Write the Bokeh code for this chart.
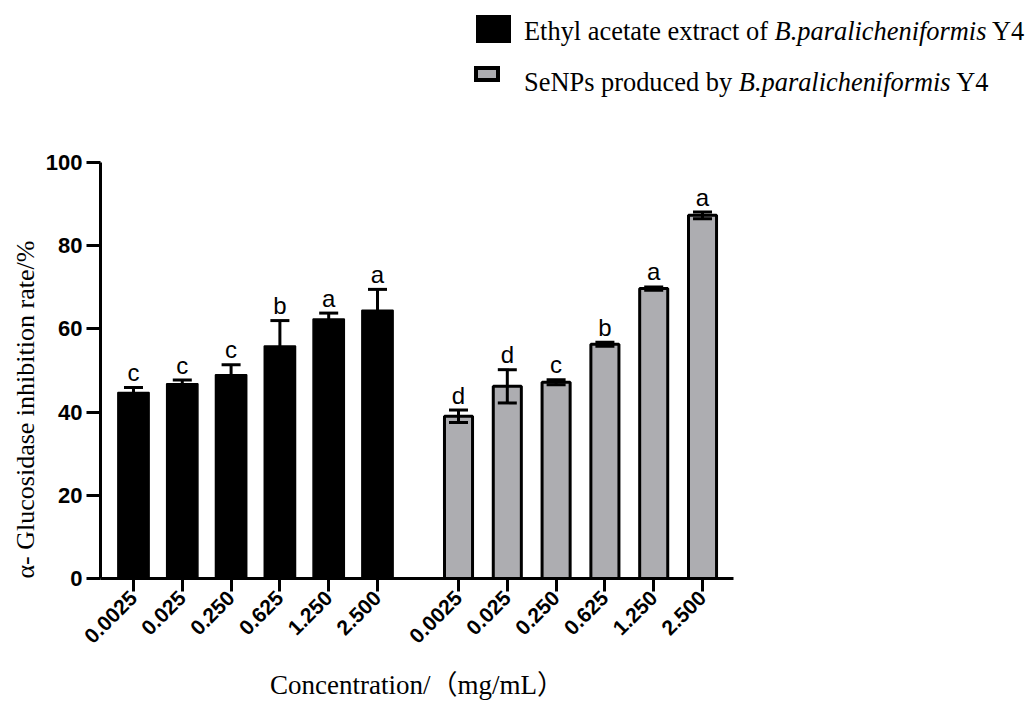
import math
from bokeh.plotting import figure
from bokeh.models import (Range1d, FixedTicker, CustomJSTickFormatter, ColumnDataSource,
                          Whisker, TeeHead, Title, Div)
from bokeh.layouts import column
from bokeh.core.properties import value
from bokeh.embed import file_html
from bokeh.resources import INLINE

# ---------------- data ----------------
concentrations = ["0.0025", "0.025", "0.250", "0.625", "1.250", "2.500"]

ethyl_mean = [44.7, 46.8, 49.0, 55.9, 62.4, 64.5]
ethyl_sd = [1.2, 0.9, 2.4, 6.1, 1.4, 5.0]
ethyl_letters = ["c", "c", "c", "b", "a", "a"]

senps_mean = [39.0, 46.2, 47.2, 56.3, 69.7, 87.3]
senps_sd = [1.5, 4.0, 0.6, 0.5, 0.4, 0.8]
senps_letters = ["d", "d", "c", "b", "a", "a"]

series_names = ["Ethyl acetate extract of", "SeNPs produced by"]
species = "B.paralicheniformis"
strain = "Y4"

y_ticks = [0, 20, 40, 60, 80, 100]
y_title = "α- Glucosidase inhibition rate/%"
x_title = "Concentration/（mg/mL）"

# ---------------- layout helpers ----------------
GROUP_OFFSET = 6.66
left_x = [float(i) for i in range(len(concentrations))]
right_x = [GROUP_OFFSET + i for i in range(len(concentrations))]
all_x = left_x + right_x
all_labels = concentrations + concentrations

GREY = "#adadb1"

src_l = ColumnDataSource(dict(
    x=left_x, top=ethyl_mean,
    upper=[m + s for m, s in zip(ethyl_mean, ethyl_sd)],
    lower=[m - s for m, s in zip(ethyl_mean, ethyl_sd)],
    letter=ethyl_letters))
src_r = ColumnDataSource(dict(
    x=right_x, top=senps_mean,
    upper=[m + s for m, s in zip(senps_mean, senps_sd)],
    lower=[m - s for m, s in zip(senps_mean, senps_sd)],
    letter=senps_letters))

p = figure(width=753, height=602,
           x_range=Range1d(-0.676, 12.295), y_range=Range1d(0, 100),
           output_backend="svg", toolbar_location=None,
           min_border_left=100, min_border_top=62, min_border_bottom=123,
           min_border_right=20)
p.outline_line_color = None
p.xgrid.visible = False
p.ygrid.visible = False
p.background_fill_color = "white"

p.vbar(x="x", top="top", bottom=0, width=0.64, source=src_l,
       fill_color="black", line_color="black", line_width=1.5)
p.vbar(x="x", top="top", bottom=0, width=0.575, source=src_r,
       fill_color=GREY, line_color="black", line_width=3)

for src in (src_l, src_r):
    w = Whisker(base="x", upper="upper", lower="lower", source=src,
                line_width=3, line_color="black",
                upper_head=TeeHead(size=19, line_width=3, line_color="black"),
                lower_head=TeeHead(size=19, line_width=3, line_color="black"),
                level="annotation")
    p.add_layout(w)
    p.text(x="x", y="upper", text="letter", source=src,
           text_align="center", text_baseline="alphabetic", y_offset=-15,
           text_font=value("Liberation Sans"), text_font_size="24px",
           text_color="black")

# y axis
ya = p.yaxis[0]
ya.ticker = FixedTicker(ticks=y_ticks)
ya.axis_line_width = 3
ya.major_tick_line_width = 3
ya.major_tick_out = 14
ya.major_tick_in = 0
ya.minor_tick_out = 0
ya.minor_tick_in = 0
ya.major_label_standoff = 4
ya.major_label_text_font = "Liberation Sans"
ya.major_label_text_font_style = "bold"
ya.major_label_text_font_size = "22px"
ya.major_label_text_color = "black"
ya.axis_label = None

p.add_layout(Title(text=y_title, align="left", text_font="Liberation Serif",
                   text_font_size="26px", text_font_style="normal",
                   text_color="black", standoff=6), "left")

# x axis
xa = p.xaxis[0]
xa.ticker = FixedTicker(ticks=all_x)
xa.formatter = CustomJSTickFormatter(args=dict(labels=all_labels),
                                     code="return labels[index];")
xa.major_label_orientation = math.pi / 4
xa.axis_line_width = 3
xa.major_tick_line_width = 3
xa.major_tick_out = 13
xa.major_tick_in = 0
xa.minor_tick_out = 0
xa.minor_tick_in = 0
xa.major_label_standoff = 3
xa.major_label_text_font = "Liberation Sans"
xa.major_label_text_font_style = "bold"
xa.major_label_text_font_size = "21px"
xa.major_label_text_color = "black"
xa.axis_label = x_title
xa.axis_label_text_font = "'Liberation Serif', 'Noto Sans CJK SC'"
xa.axis_label_text_font_style = "normal"
xa.axis_label_text_font_size = "27px"
xa.axis_label_text_color = "black"
xa.axis_label_standoff = 17

# legend (mixed roman/italic text) as HTML
legend_html = (
    "<div style=\"position:relative;width:1031px;height:100px;"
    "font-family:'Liberation Serif',serif;font-size:26.4px;color:#000;\">"
    "<div style=\"position:absolute;left:476px;top:15px;width:35px;height:28px;background:#000;\"></div>"
    f"<div style=\"position:absolute;left:524px;top:15px;line-height:32px;white-space:nowrap;\">"
    f"{series_names[0]} <i>{species}</i> {strain}</div>"
    f"<div style=\"position:absolute;left:474px;top:66px;width:26px;height:16px;background:{GREY};border:4px solid #000;\"></div>"
    f"<div style=\"position:absolute;left:524px;top:66px;line-height:32px;white-space:nowrap;\">"
    f"{series_names[1]} <i>{species}</i> {strain}</div>"
    "</div>"
)
legend_div = Div(text=legend_html, width=1031, height=100, margin=(0, 0, 0, 0))

layout = column(legend_div, p, spacing=0)

open("out.html", "w").write(file_html(layout, INLINE))
